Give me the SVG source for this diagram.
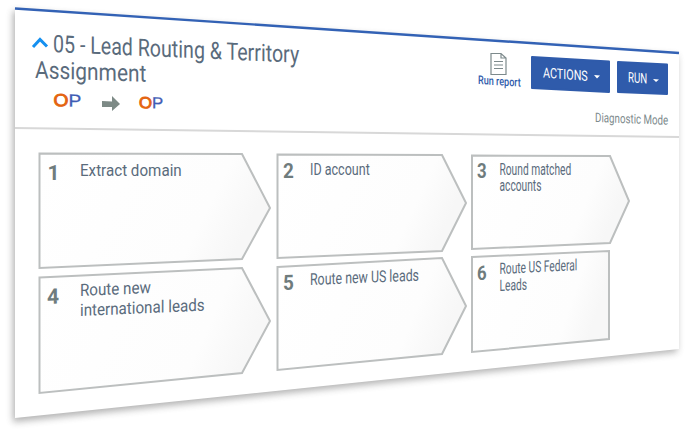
<svg xmlns="http://www.w3.org/2000/svg" width="686" height="432" viewBox="0 0 686 432">
<style>
text{font-family:Roboto,"Liberation Sans",sans-serif}
.t{fill:#5a6b7c;font-size:16.500px}
.n{fill:#6f7c7d;font-weight:700;font-size:21px}
.s{fill:url(#g);stroke:#bcbfbf;stroke-width:2}
.w{fill:#fff;font-size:13.500px}
.b{fill:#2f5bab;stroke:#2f5bab;stroke-width:2;stroke-linejoin:round}
.o{fill:#e4640f;stroke:#e4640f;stroke-width:.9;font-family:"Liberation Sans",sans-serif}
.p{fill:#3f5cb5;stroke:#3f5cb5;stroke-width:.3;font-family:"Liberation Sans",sans-serif}
</style>
<defs>
<linearGradient id="g" x1="0" y1="0" x2="1" y2="0.25">
<stop offset="0" stop-color="#fff"/><stop offset="0.8" stop-color="#fdfdfd"/><stop offset="1" stop-color="#f7f7f7"/>
</linearGradient>
<filter id="sh" x="-5%" y="-5%" width="110%" height="115%"><feGaussianBlur stdDeviation="3.500"/></filter>
</defs>
<rect width="686" height="432" fill="#fff"/>
<g id="panel">
<polygon points="13,11 677,56 677,352 13,422" fill="#555" opacity=".45" filter="url(#sh)"/>
<polygon points="15,8 679,53 679,349 15,418" fill="#fff"/>
<line x1="15" y1="8.500" x2="679" y2="53" stroke="#3362b5" stroke-width="2.400"/>
<line x1="15" y1="128" x2="679" y2="137" stroke="#d8d8d8" stroke-width="2"/>
</g>
<g id="header">
<polyline points="33,47 40,39.500 47,46.500" fill="none" stroke="#1590f0" stroke-width="3"/>
<text transform="matrix(.835 .036 0 1.020 53 52)" font-size="23.500" fill="#5a6b7c">05 - Lead Routing &amp; Territory</text>
<text transform="matrix(.89 .03 0 1.020 35 78)" font-size="23.500" fill="#5a6b7c">Assignment</text>
<text transform="matrix(1.100 .03 0 1 53.500 106)" font-size="17.500"><tspan class="o">O</tspan><tspan class="p">P</tspan></text>
<text transform="matrix(1.050 .03 0 1 139 108)" font-size="16"><tspan class="o">O</tspan><tspan class="p">P</tspan></text>
<path d="M491,53.500H501L506,58V74.500H491Z M501,53.500V58H506 M494,61.500H503M494,65H503M494,68.500H503" fill="none" stroke="#7d8a8c" stroke-width="1.200"/>
<text transform="matrix(.79 .05 0 1.050 478 84)" font-size="11.500" font-weight="500" fill="#2f5bab">Run report</text>
<polygon class="b" points="532,57 609,61.500 609,92 532,88"/>
<text class="w" transform="matrix(.8 .06 0 1.050 543 77.500)">ACTIONS</text>
<polygon points="594,75 600,75.500 597,78.500" fill="#fff"/>
<polygon class="b" points="618,62 667,64.500 667,94 618,92"/>
<text class="w" transform="matrix(.72 .06 0 1.050 628 82)">RUN</text>
<polygon points="653,79 659,79.500 656,82" fill="#fff"/>
<text transform="matrix(.78 .03 0 1.050 595 122)" font-size="12.500" fill="#7d8a8c">Diagnostic Mode</text>
</g>
<g id="connectors">
<polygon points="102,101 112,101.500 112,96 120,104 112,111 112,107 102,107" fill="#7d8a86"/>
</g>
<g id="node1">
<polygon class="s" points="39.500,153.500 242,154 270,208 242,259 39.500,268"/>
<text class="n" transform="translate(47.500 180)">1</text>
<text class="t" transform="matrix(.92 0 0 1 80 175.500)">Extract domain</text>
</g>
<g id="node2">
<polygon class="s" points="277.500,154.500 442,155 466,203 442,251 277.500,258"/>
<text class="n" transform="matrix(.9 0 0 1 283 178)">2</text>
<text class="t" transform="matrix(.76 0 0 1 310 175)">ID account</text>
</g>
<g id="node3">
<polygon class="s" points="472,155.500 610,156 629,201 610,243 472,249"/>
<text class="n" transform="matrix(.8 0 0 .95 477 178)">3</text>
<text class="t" transform="matrix(.62 0 0 .95 499.500 175)">Round matched</text>
<text class="t" transform="matrix(.62 0 0 .95 499.500 191)">accounts</text>
</g>
<g id="node4">
<polygon class="s" points="39.500,277.500 242,268 270,321 242,373 39.500,393"/>
<text class="n" transform="matrix(1 -.04 0 1.020 47 304)">4</text>
<text class="t" transform="matrix(.92 -.04 0 1.020 80 296)">Route new</text>
<text class="t" transform="matrix(.92 -.04 0 1.020 80 316)">international leads</text>
</g>
<g id="node5">
<polygon class="s" points="277.500,267 442,258 466,306 442,354 277.500,370"/>
<text class="n" transform="matrix(.9 -.03 0 1 283 290)">5</text>
<text class="t" transform="matrix(.75 -.03 0 1 310 285)">Route new US leads</text>
</g>
<g id="node6">
<polygon class="s" points="472,257 609,251 609,339 472,352"/>
<text class="n" transform="matrix(.8 -.02 0 .95 477 280)">6</text>
<text class="t" transform="matrix(.62 -.03 0 .95 499.500 274)">Route US Federal</text>
<text class="t" transform="matrix(.62 -.03 0 .95 499.500 291)">Leads</text>
</g>
</svg>
